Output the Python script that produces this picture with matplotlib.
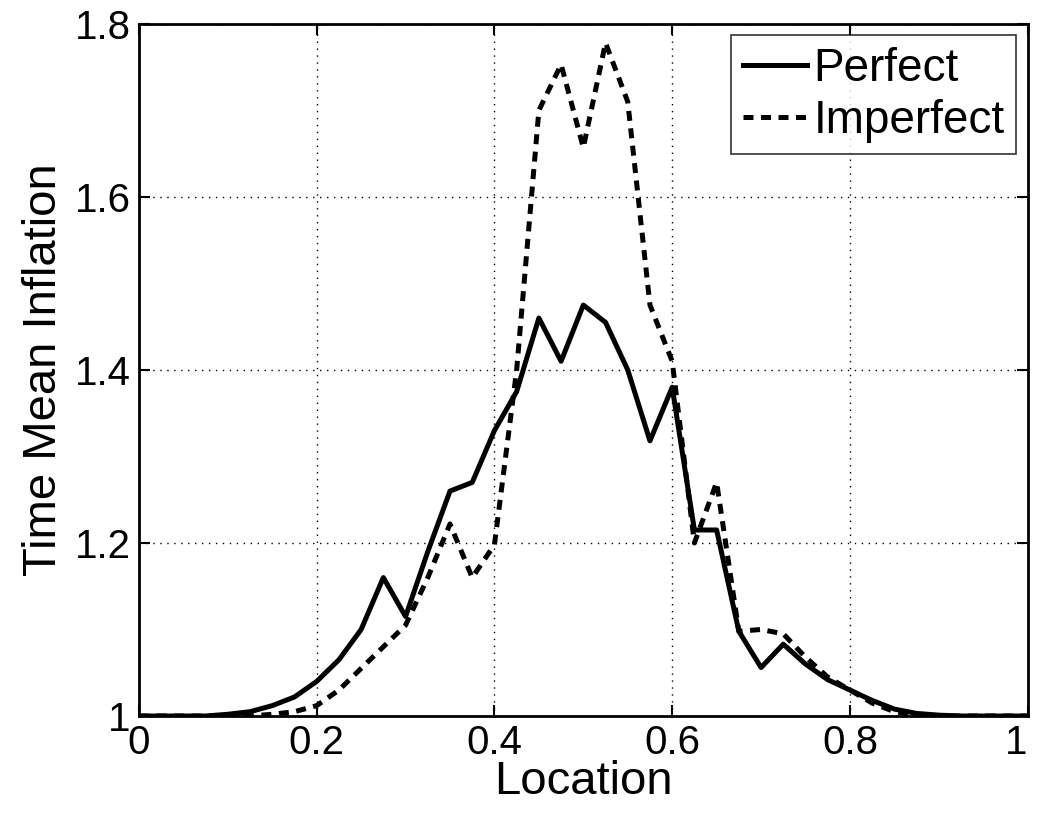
import numpy as np
import matplotlib
matplotlib.use("Agg")
import matplotlib.pyplot as plt

# Location grid (41 points, spacing 0.025)
location = [i / 40 for i in range(41)]

perfect = [
    1.000, 1.000, 1.000, 1.000, 1.002, 1.005, 1.012, 1.022, 1.040, 1.065,
    1.100, 1.160, 1.115, 1.190, 1.260, 1.270, 1.330, 1.375, 1.460, 1.410,
    1.475, 1.455, 1.400, 1.318, 1.380, 1.215, 1.215, 1.098, 1.056, 1.083,
    1.060, 1.042, 1.030, 1.018, 1.008, 1.003, 1.001, 1.000, 1.000, 1.000,
    1.000,
]

imperfect = [
    1.000, 1.000, 1.000, 1.000, 1.000, 1.000, 1.002, 1.005, 1.012, 1.030,
    1.055, 1.080, 1.105, 1.160, 1.222, 1.160, 1.198, 1.400, 1.700, 1.753,
    1.657, 1.778, 1.710, 1.475, 1.410, 1.200, 1.270, 1.098, 1.100, 1.095,
    1.068, 1.045, 1.030, 1.015, 1.005, 1.001, 1.000, 1.000, 1.000, 1.000,
    1.000,
]

xticks = [0, 0.2, 0.4, 0.6, 0.8, 1]
xticklabels = ["0", "0.2", "0.4", "0.6", "0.8", "1"]
yticks = [1, 1.2, 1.4, 1.6, 1.8]
yticklabels = ["1", "1.2", "1.4", "1.6", "1.8"]

plt.rcParams["font.family"] = ["Liberation Sans", "DejaVu Sans"]

fig = plt.figure(figsize=(10.37, 8.23), dpi=100)
ax = fig.add_axes([0.134, 0.130, 0.857, 0.841])

ax.plot(location, perfect, color="black", lw=3.6, ls="-", label="Perfect")
ax.plot(location, imperfect, color="black", lw=3.6, ls=(0, (2.0, 1.5)),
        label="Imperfect")

ax.set_xlim(0, 1)
ax.set_ylim(1, 1.8)
ax.set_xticks(xticks)
ax.set_xticklabels(xticklabels)
ax.set_yticks(yticks)
ax.set_yticklabels(yticklabels)
# keep the last x tick label inside the figure, as in the reference
ax.get_xticklabels()[-1].set_horizontalalignment("right")

ax.grid(True, color="black", ls=(0, (1, 4)), lw=1.0)
ax.tick_params(direction="in", top=True, right=True, length=8, width=1.5,
               labelsize=29, pad=6)
for sp in ax.spines.values():
    sp.set_linewidth(2.0)

ax.set_xlabel("Location", fontsize=34, labelpad=-2)
ax.set_ylabel("Time Mean Inflation", fontsize=34, labelpad=6)

leg = ax.legend(loc="upper right", fontsize=33, frameon=True, fancybox=False,
                handlelength=1.4, handletextpad=0.15, borderpad=0.25,
                labelspacing=0.18, borderaxespad=0.25)
leg.get_frame().set_edgecolor("black")
leg.get_frame().set_linewidth(1.2)

fig.savefig("out.png", dpi=100)
